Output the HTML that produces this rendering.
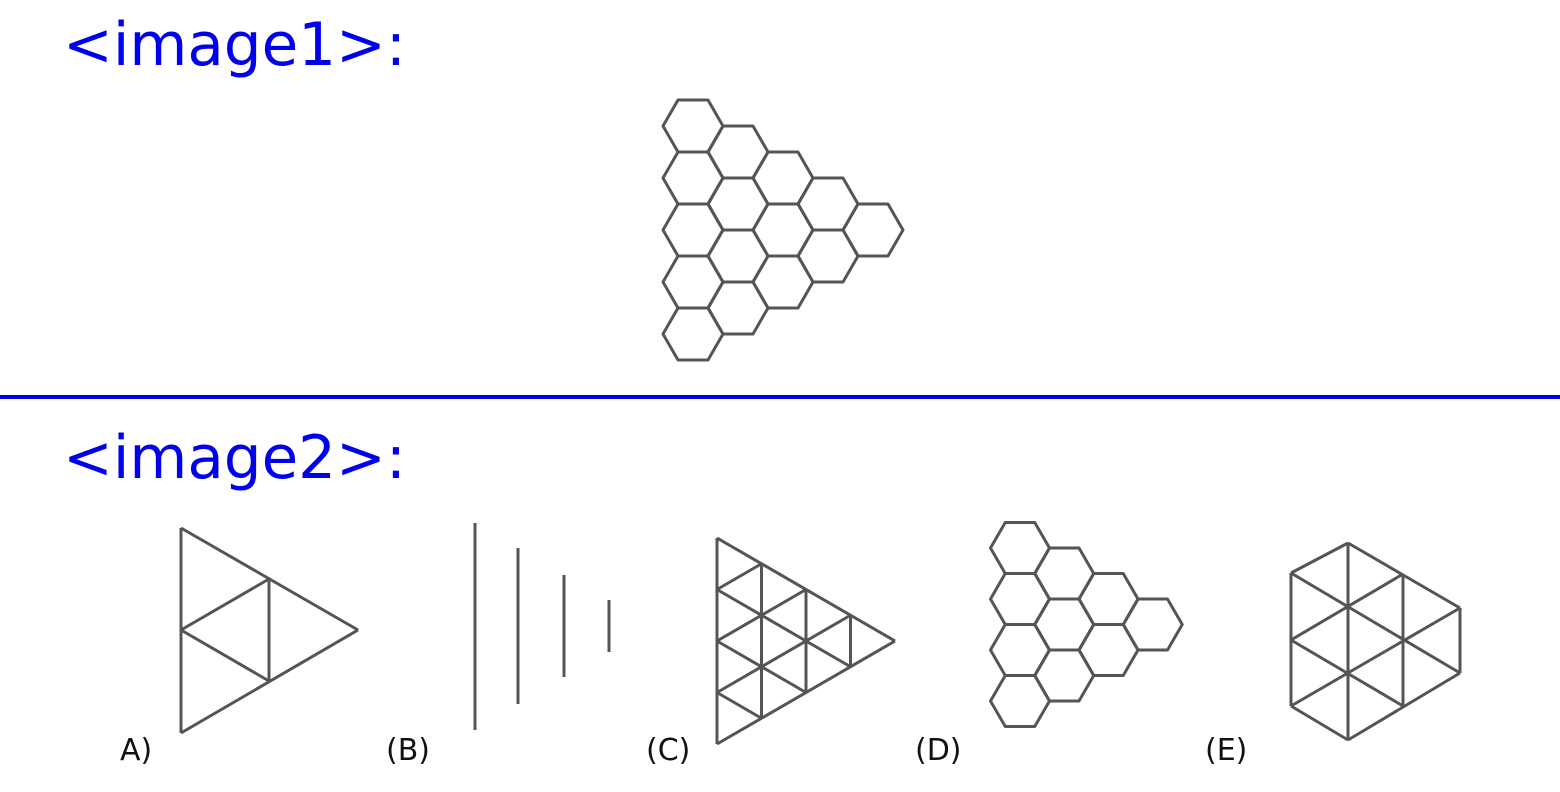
<!DOCTYPE html>
<html><head><meta charset="utf-8"><style>
html,body{margin:0;padding:0;background:#fff;}
body{width:1560px;height:792px;position:relative;overflow:hidden;font-family:"DejaVu Sans","Liberation Sans",sans-serif;}
.hdr{position:absolute;left:63px;color:#0000ee;font-size:59.5px;line-height:1;}
.lbl{position:absolute;font-size:30px;color:#111;line-height:1;}
svg{position:absolute;left:0;top:0;}
</style></head><body>
<div class="hdr" style="top:16px">&lt;image1&gt;:</div>
<div style="position:absolute;left:0;top:395px;width:1560px;height:4px;background:#0000ee"></div>
<div class="hdr" style="top:429px">&lt;image2&gt;:</div>
<div class="lbl" style="left:120px;top:736px">A)</div>
<div class="lbl" style="left:386px;top:736px">(B)</div>
<div class="lbl" style="left:646px;top:736px">(C)</div>
<div class="lbl" style="left:915px;top:736px">(D)</div>
<div class="lbl" style="left:1205px;top:736px">(E)</div>
<svg id="s" width="1560" height="792" fill="none" stroke="#555" stroke-width="3" stroke-linejoin="round"></svg>
<script>
const NS='http://www.w3.org/2000/svg';
const svg=document.getElementById('s');
function line(x1,y1,x2,y2,name){const l=document.createElementNS(NS,'line');
l.setAttribute('x1',x1);l.setAttribute('y1',y1);l.setAttribute('x2',x2);l.setAttribute('y2',y2);


svg.appendChild(l);}
function hex(cx,cy,r,h,name){const p=document.createElementNS(NS,'polygon');
const pts=[[cx-r,cy],[cx-r/2,cy-h/2],[cx+r/2,cy-h/2],[cx+r,cy],[cx+r/2,cy+h/2],[cx-r/2,cy+h/2]];
p.setAttribute('points',pts.map(q=>q.join(',')).join(' '));


svg.appendChild(p);}
function hexTri(x0,y0,r,h,n,name){for(let c=0;c<n;c++){for(let k=0;k<n-c;k++){hex(x0+c*1.5*r,y0+c*h/2+k*h,r,h,name);}}}
hexTri(693,126,30,52,5,'image1-hexagon');
hexTri(1020,548,29.5,51,4,'option-d-hexagon');
line(181,528,181,733,'option-a-edge');line(181,528,358,630,'option-a-edge');line(181,733,358,630,'option-a-edge');
line(181,630,269,579,'option-a-edge');line(181,630,269,681,'option-a-edge');line(269,579,269,681,'option-a-edge');
line(475,523,475,730,'option-b-line');line(518,548,518,704,'option-b-line');line(564,575,564,677,'option-b-line');line(609,600,609,652,'option-b-line');
(function(){const x0=717,yt=538,yb=744,ax=895,n=4;const dx=(ax-x0)/n,L=(yb-yt)/n;
function P(k,j){return [x0+k*dx,yt+k*L/2+j*L];}
for(let k=0;k<n;k++){const a=P(k,0),b=P(k,n-k);line(a[0],a[1],b[0],b[1],'option-c-edge');}
for(let j=0;j<=n;j++){
 const a=P(0,j),b=P(n-j,j);line(a[0],a[1],b[0],b[1],'option-c-edge');
 const c=P(0,j),d=P(j,0);line(c[0],c[1],d[0],d[1],'option-c-edge');}
})();
const E=[[1291,573,1291,706],[1348,543,1348,740],[1403,574,1403,706],[1460,608,1460,673],
[1291,573,1460,673],[1348,543,1460,608],[1291,640,1403,706],[1291,706,1348,740],
[1291,573,1348,543],[1291,640,1403,574],[1291,706,1460,608],[1348,740,1460,673]];
E.forEach(e=>line(e[0],e[1],e[2],e[3],'option-e-edge'));
</script>
</body></html>
